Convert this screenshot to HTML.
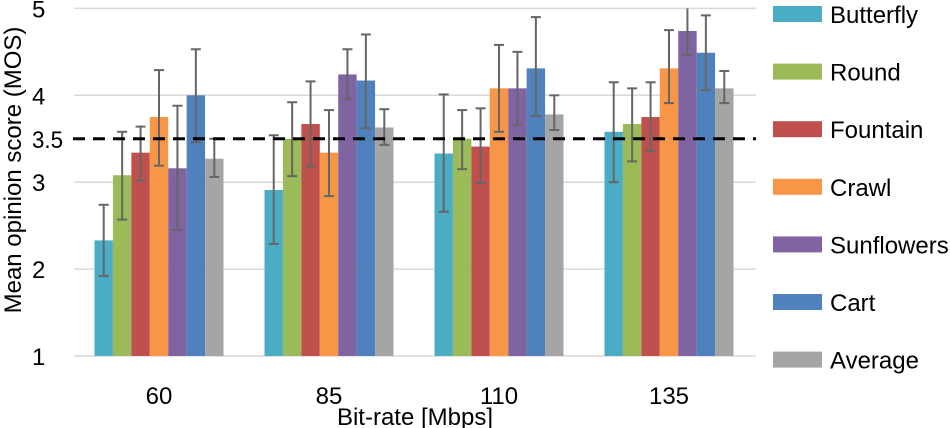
<!DOCTYPE html>
<html><head><meta charset="utf-8"><style>
body{margin:0;background:#fff}
svg{display:block;font-family:"Liberation Sans",sans-serif}
</style></head><body>
<svg id="chart" width="950" height="428"></svg>
<script>
const categories=["60","85","110","135"];
const seriesNames=["Butterfly","Round","Fountain","Crawl","Sunflowers","Cart","Average"];
const colors=["#4bacc6","#9bbb59","#c0504d","#f79646","#8064a2","#4f81bd","#a5a5a5"];
const butterfly=[2.33,2.91,3.33,3.58];
const round=[3.08,3.50,3.50,3.67];
const fountain=[3.34,3.67,3.41,3.75];
const crawl=[3.75,3.34,4.08,4.31];
const sunflowers=[3.16,4.24,4.08,4.74];
const cart=[4.00,4.17,4.31,4.49];
const average=[3.27,3.63,3.78,4.08];
const errHigh=[[2.74,3.54,4.01,4.15],[3.58,3.92,3.83,4.08],[3.64,4.16,3.85,4.15],[4.29,3.83,4.58,4.75],[3.88,4.53,4.50,5.0],[4.53,4.70,4.90,4.92],[3.50,3.84,4.00,4.28]];
const errLow=[[1.92,2.29,2.66,3.00],[2.57,3.07,3.15,3.24],[3.02,3.18,2.99,3.36],[3.19,2.84,3.58,3.91],[2.45,3.96,3.66,4.46],[3.46,3.62,3.76,4.06],[3.06,3.43,3.60,3.91]];
const yTicks=[1,2,3,4,5];
const yTickLabels=["1","2","3","4","5"];
const refLine=3.5;
const refLabel="3.5";
const series=[butterfly,round,fountain,crawl,sunflowers,cart,average];

const NS="http://www.w3.org/2000/svg";
const svg=document.getElementById("chart");
function mk(tag,attrs,parent){const e=document.createElementNS(NS,tag);for(const k in attrs)e.setAttribute(k,attrs[k]);(parent||svg).appendChild(e);return e;}
const X0=74,BAND=170,BW=18.43,GOFF=20.5;
function y(v){return 356-(v-1)*86.9;}
function xb(ci,si){return X0+ci*BAND+GOFF+si*BW;}

yTicks.forEach((t,i)=>{
  const g=mk("line",{x1:74,x2:756,y1:y(t),y2:y(t),stroke:"#d9d9d9","stroke-width":1.5});
  
  
  const tx=mk("text",{x:32,y:y(t)+9,"font-size":24,fill:"#000"});
  tx.textContent=yTickLabels[i];
  
  
});
const r2=mk("text",{x:32,y:y(refLine)+9,"font-size":24,"textLength":31,"lengthAdjust":"spacingAndGlyphs",fill:"#000"});
r2.textContent=refLabel;



series.forEach((vals,si)=>{
  vals.forEach((v,ci)=>{
    const r=mk("rect",{x:xb(ci,si),y:y(v),width:BW,height:y(1)-y(v),fill:colors[si]});
    
    
  });
});
series.forEach((vals,si)=>{
  vals.forEach((v,ci)=>{
    const cx=xb(ci,si)+BW/2,hi=y(Math.min(errHigh[si][ci],5.05)),lo=y(errLow[si][ci]);
    const g=mk("g",{stroke:"#666","stroke-width":2});
    
    
    mk("line",{x1:cx,x2:cx,y1:hi,y2:lo},g);
    if(errHigh[si][ci]<5)mk("line",{x1:cx-5,x2:cx+5,y1:hi,y2:hi},g);
    mk("line",{x1:cx-5,x2:cx+5,y1:lo,y2:lo},g);
  });
});
const dl=mk("line",{x1:73,x2:756,y1:y(refLine),y2:y(refLine),stroke:"#000","stroke-width":3,"stroke-dasharray":"12,8"});



categories.forEach((c,ci)=>{
  const t=mk("text",{x:X0+ci*BAND+BAND/2,y:404,"text-anchor":"middle","font-size":24});
  t.textContent=c;
  
  
});
const xt=mk("text",{x:415,y:425,"text-anchor":"middle","font-size":24});
xt.textContent="Bit-rate [Mbps]";


const yt=mk("text",{x:0,y:0,"text-anchor":"middle","font-size":24,transform:"translate(21,170) rotate(-90)"});
yt.textContent="Mean opinion score (MOS)";



seriesNames.forEach((n,si)=>{
  const cy=14+si*57.6;
  const g=mk("g",{});
  
  
  mk("rect",{x:773,y:cy-8,width:49,height:16,fill:colors[si]},g);
  const t=mk("text",{x:830,y:cy+9,"font-size":24},g);
  t.textContent=n;
});
</script>
</body></html>
